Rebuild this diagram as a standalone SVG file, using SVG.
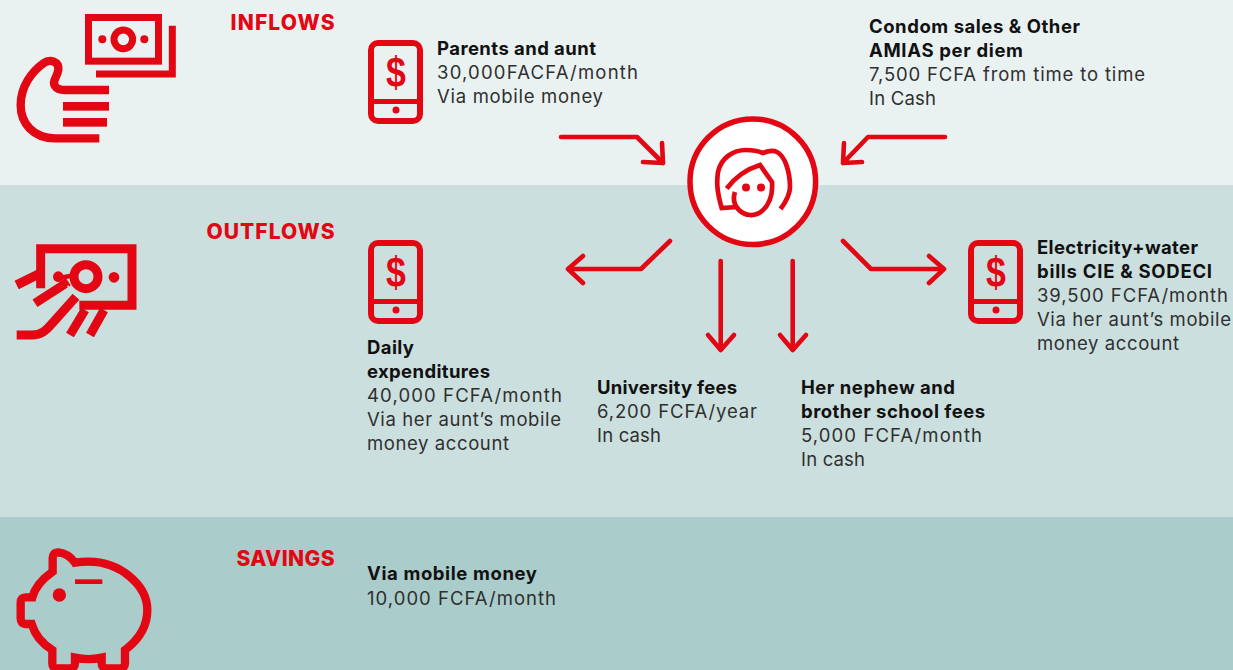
<svg xmlns="http://www.w3.org/2000/svg" width="1233" height="670" viewBox="0 0 1233 670">
<style>
text{font-family:"Inter","Liberation Sans",sans-serif;font-size:18.5px;fill:#2f2f2f}
.b{font-weight:700;fill:#111}
.h{font-weight:800;font-size:21px;fill:#e30613;text-anchor:end}
.r{fill:#e30613}
.l{fill:none;stroke:#e30613}
.a{fill:none;stroke:#e30613;stroke-width:4.6;stroke-linecap:round;stroke-linejoin:round}
</style>
<defs>
<g id="phone">
<rect x="3" y="3" width="49" height="78" rx="7" class="l" stroke-width="6"/>
<path d="M3 61.500H52" class="l" stroke-width="5"/>
<circle cx="28" cy="70" r="3.500" class="r"/>
<text transform="translate(28 47) scale(.85 1)" text-anchor="middle" style="font-family:'Liberation Sans',sans-serif;font-size:42px;font-weight:700;fill:#e30613">$</text>
</g>
</defs>
<g id="bands">
<rect width="1233" height="185" fill="#e9f2f1"/>
<rect y="185" width="1233" height="332" fill="#cbdfde"/>
<rect y="517" width="1233" height="153" fill="#aacccb"/>
</g>
<g id="icon-inflows" transform="scale(.3333)">
<rect x="265.500" y="52.500" width="210" height="131" class="l" stroke-width="21"/>
<circle cx="370" cy="118" r="28" class="l" stroke-width="21"/>
<circle cx="307" cy="118" r="12" class="r"/><circle cx="433" cy="118" r="12" class="r"/>
<path d="M288 222H517V77" class="l" stroke-width="21"/>
<path d="M298 415H165C100 415 62 370 62 315C62 260 95 215 130 190C150 175 178 185 175 210C172 230 155 245 165 258C170 266 180 270 195 270H327" class="l" stroke-width="25"/>
<rect x="189" y="306" width="138" height="26" class="r"/>
<rect x="189" y="354" width="132" height="26" class="r"/>
</g>
<g id="icon-outflows" transform="translate(0 220) scale(.3333)">
<path d="M122 205V86H396V256H238" class="l" stroke-width="27"/>
<circle cx="258" cy="170" r="36" class="l" stroke-width="27"/>
<circle cx="342" cy="172" r="16" class="r"/><circle cx="175" cy="170" r="16" class="r"/>
<path d="M50 195L120 160" class="l" stroke-width="28"/>
<path d="M175 175L225 165" class="l" stroke-width="14"/>
<path d="M50 345H95C125 345 140 330 155 312L228 230" class="l" stroke-width="27"/>
<path d="M105 250L205 185" class="l" stroke-width="27"/>
<path d="M203 197L222 222" stroke="#cbdfde" stroke-width="5" fill="none"/>
<path d="M210 345L255 270M270 345L312 270" class="l" stroke-width="27"/>
</g>
<g id="icon-savings" transform="translate(0 530) scale(.3333)">
<path d="M158 125V85Q158 67 175 67Q205 70 225 98Q245 95 265 95C360 95 442 165 442 240C442 290 415 330 375 360V400Q375 415 360 415H320Q305 415 305 400V383Q265 392 225 383V400Q225 415 210 415H170Q157 415 157 400V360C125 340 105 315 95 282H77Q62 282 62 265V218Q62 202 77 202H97C105 170 130 145 158 125Z" class="l" stroke-width="25"/>
<path d="M225 155H307" class="l" stroke-width="14"/>
<circle cx="178" cy="195" r="20" class="r"/>
</g>
<g id="phone-parents" transform="translate(368 40)"><use href="#phone"/></g>
<g id="phone-daily" transform="translate(368 240)"><use href="#phone"/></g>
<g id="phone-bills" transform="translate(968 240)"><use href="#phone"/></g>
<g id="connectors">
<path d="M561 137H637L663 163M662 143L663 163L643 162" class="a"/>
<path d="M945 137H868L843 163M844 143L843 163L862 162" class="a"/>
<path d="M670 241L641 269H568M583 256L568 269L583 283" class="a"/>
<path d="M843 241L871 269H944M929 256L944 269L929 283" class="a"/>
<path d="M720.700 261V350M708 335L720.700 350L734 335" class="a"/>
<path d="M792.700 261V350M780 335L792.700 350L806 335" class="a"/>
</g>
<g id="person">
<circle cx="752.800" cy="181.700" r="62.800" fill="#fff" stroke="#e30613" stroke-width="5.500"/>
<g fill="none" stroke="#e30613" stroke-width="4.700">
<path d="M737 207L721.700 208C718 195 716 185 718 172C721 158 733 150 746 150C753 150 758 151 763 153C768 151 773 150 777 152C785 156 790 172 790 187C790 195 785 203 780.500 209"/>
<path d="M726.700 188.500C736 176 747 169 760 165L772 182C773 195 769 205 762 211C755 217 745 216 739 210C734 205 733 198 735 192"/>
</g>
<circle cx="746" cy="187.500" r="4" class="r"/><circle cx="761" cy="187.500" r="4" class="r"/>
</g>
<text class="h" x="334.500" y="30" textLength="104">INFLOWS</text>
<text class="h" x="334.500" y="239" textLength="128">OUTFLOWS</text>
<text class="h" x="334.500" y="566" textLength="98">SAVINGS</text>
<g id="t-parents"><text class="b" x="437" y="55" textLength="159">Parents and aunt</text><text x="437" y="79" textLength="201">30,000FACFA/month</text><text x="437" y="103" textLength="166">Via mobile money</text></g>
<g id="t-condom"><text class="b" x="869" y="33" textLength="211">Condom sales &amp; Other</text><text class="b" x="869" y="57" textLength="154">AMIAS per diem</text><text x="869" y="81" textLength="276">7,500 FCFA from time to time</text><text x="869" y="105" textLength="67">In Cash</text></g>
<g id="t-daily"><text class="b" x="367" y="354" textLength="47">Daily</text><text class="b" x="367" y="378" textLength="123">expenditures</text><text x="367" y="402" textLength="195">40,000 FCFA/month</text><text x="367" y="426" textLength="194">Via her aunt’s mobile</text><text x="367" y="450" textLength="142">money account</text></g>
<g id="t-uni"><text class="b" x="597" y="394" textLength="140">University fees</text><text x="597" y="418" textLength="160">6,200 FCFA/year</text><text x="597" y="442" textLength="64">In cash</text></g>
<g id="t-nephew"><text class="b" x="801" y="394" textLength="154">Her nephew and</text><text class="b" x="801" y="418" textLength="184">brother school fees</text><text x="801" y="442" textLength="181">5,000 FCFA/month</text><text x="801" y="466" textLength="64">In cash</text></g>
<g id="t-bills"><text class="b" x="1037" y="254" textLength="161">Electricity+water</text><text class="b" x="1037" y="278" textLength="175">bills CIE &amp; SODECI</text><text x="1037" y="302" textLength="191">39,500 FCFA/month</text><text x="1037" y="326" textLength="194">Via her aunt’s mobile</text><text x="1037" y="350" textLength="142">money account</text></g>
<g id="t-savings"><text class="b" x="367" y="580" textLength="170">Via mobile money</text><text x="367" y="605" textLength="189">10,000 FCFA/month</text></g>
</svg>
